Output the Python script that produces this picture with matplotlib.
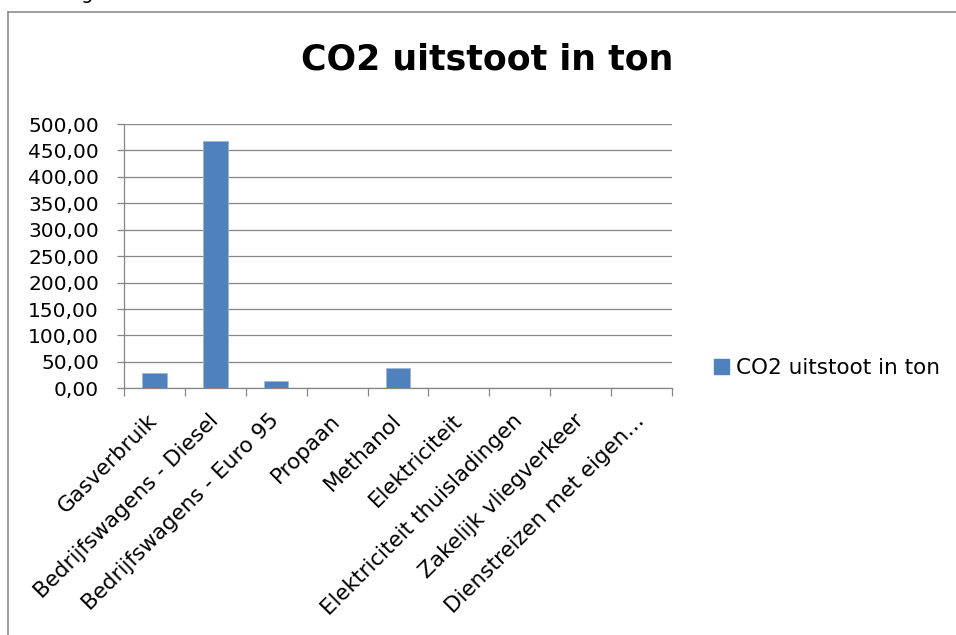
import matplotlib
matplotlib.use('Agg')
import matplotlib.pyplot as plt
from matplotlib.lines import Line2D
from matplotlib.patches import Patch
from matplotlib.ticker import FuncFormatter, FixedLocator
import numpy as np

categories = ['Gasverbruik', 'Bedrijfswagens - Diesel', 'Bedrijfswagens - Euro 95',
              'Propaan', 'Methanol', 'Elektriciteit', 'Elektriciteit thuisladingen',
              'Zakelijk vliegverkeer', 'Dienstreizen met eigen…']
co2 = [28.4, 467.0, 13.8, 0.0, 39.0, 0.0, 0.0, 0.0, 0.0]
series_name = 'CO2 uitstoot in ton'
title = 'CO2 uitstoot in ton'

bar_color = '#4F81BD'
grid_color = '#868686'

plt.rcParams['font.family'] = ['DejaVu Sans']

W, H = 956, 635
fig = plt.figure(figsize=(W / 100, H / 100), dpi=100)
ax = fig.add_axes([124 / W, 1 - 388.3 / H, (672 - 124) / W, (388.3 - 124) / H])

x = np.arange(len(categories))
ax.bar(x, co2, width=0.4, color=bar_color, edgecolor='#9DB5D9', linewidth=0.5, zorder=3)

ax.set_xlim(-0.5, len(categories) - 0.5)
ax.set_ylim(0, 500)
ax.set_yticks(np.arange(0, 501, 50))
ax.yaxis.set_major_formatter(FuncFormatter(lambda v, p: f'{v:.2f}'.replace('.', ',')))
ax.grid(axis='y', color=grid_color, linewidth=0.9, zorder=0)

# category labels at centres, tick marks at the boundaries
ax.set_xticks(x)
ax.set_xticklabels(categories, rotation=45, ha='right', va='center',
                   rotation_mode='anchor', fontsize=15.5)
ax.xaxis.set_minor_locator(FixedLocator(np.arange(-0.5, len(categories), 1.0)))
ax.tick_params(axis='x', which='major', length=0, pad=21)
ax.tick_params(axis='x', which='minor', length=6, width=0.9, color=grid_color)
ax.tick_params(axis='y', length=5, width=0.9, color=grid_color, labelsize=14.5, pad=13)

for s in ['top', 'right']:
    ax.spines[s].set_visible(False)
for s in ['left', 'bottom']:
    ax.spines[s].set_color(grid_color)
    ax.spines[s].set_linewidth(0.9)

fig.text(487 / W, 1 - 70 / H, title, ha='center', va='baseline',
         fontsize=25, fontweight='bold')

handle = Patch(facecolor=bar_color, edgecolor=bar_color)
ax.legend([handle], [series_name], loc='center left',
          bbox_to_anchor=(714 / W, 1 - 368 / H), bbox_transform=fig.transFigure,
          frameon=False, fontsize=15.5, handlelength=0.7, handleheight=0.7,
          handletextpad=0.3, borderpad=0, borderaxespad=0)

# chart frame (only top and left edges are inside the screenshot)
fig.add_artist(Line2D([8 / W, 1], [1 - 12 / H, 1 - 12 / H], color='#8C8C8C', lw=1.2))
fig.add_artist(Line2D([8 / W, 8 / W], [0, 1 - 12 / H], color='#8C8C8C', lw=1.2))
# descender of a letter from the text above the chart
fig.text(87 / W, 1 + 1 / H, 'g', ha='center', va='baseline', fontsize=14)

fig.savefig('out.png', dpi=100)
